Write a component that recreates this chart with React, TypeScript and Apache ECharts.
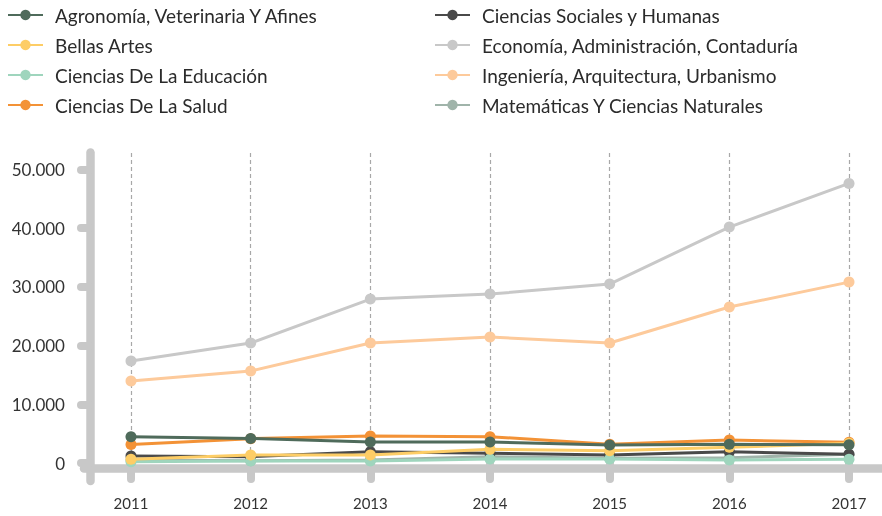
import React, { useEffect, useRef } from "react";
import * as echarts from "echarts";

const years = ["2011", "2012", "2013", "2014", "2015", "2016", "2017"];

const seriesNames = [
  "Agronomía, Veterinaria Y Afines",
  "Bellas Artes",
  "Ciencias De La Educación",
  "Ciencias De La Salud",
  "Ciencias Sociales y Humanas",
  "Economía, Administración, Contaduría",
  "Ingeniería, Arquitectura, Urbanismo",
  "Matemáticas Y Ciencias Naturales",
];

const seriesColors = [
  "#4f6b5b",
  "#fdcd66",
  "#9fd5bd",
  "#f39236",
  "#4a4a4a",
  "#c8c8c8",
  "#fdca9b",
  "#a0b4aa",
];

const agronomia = [4480, 4180, 3580, 3580, 3060, 3180, 3120];
const bellasArtes = [630, 1360, 1360, 2330, 2090, 2670, 3350];
const educacion = [220, 340, 340, 680, 680, 510, 630];
const salud = [3150, 4140, 4600, 4480, 3180, 3920, 3520];
const sociales = [1190, 1070, 1920, 1650, 1360, 1920, 1480];
const economia = [17360, 20430, 27920, 28770, 30470, 40180, 47620];
const ingenieria = [13960, 15660, 20430, 21450, 20430, 26560, 30810];
const matematicas = [510, 390, 510, 1070, 800, 900, 1480];

const seriesValues = [
  agronomia,
  bellasArtes,
  educacion,
  salud,
  sociales,
  economia,
  ingenieria,
  matematicas,
];

const yTicks = [0, 10000, 20000, 30000, 40000, 50000];

const AXIS_GRAY = "#c8c8c8";

function fmt(v: number): string {
  return String(Math.round(v)).replace(/\B(?=(\d{3})+(?!\d))/g, ".");
}

export default function App() {
  const ref = useRef<HTMLDivElement>(null);

  useEffect(() => {
    if (!ref.current) return;
    const chart = echarts.init(ref.current, null, { renderer: "svg" });

    const legendBase = {
      orient: "vertical",
      top: 5,
      padding: 0,
      itemWidth: 35,
      itemHeight: 13,
      itemGap: 10,
      textStyle: {
        fontFamily: "Lato",
        fontSize: 19,
        color: "#2b2b2b",
        lineHeight: 20,
        padding: [0, 0, 0, 7],
      },
    };

    const option: any = {
      animation: false,
      textStyle: { fontFamily: "Lato" },
      legend: [
        { ...legendBase, left: 7, data: seriesNames.slice(0, 4) },
        { ...legendBase, left: 434, data: seriesNames.slice(4) },
      ],
      grid: [
        { left: 131, right: 33, top: 153, bottom: 53 },
        { left: 90, right: 0, top: 152.5, bottom: 35 },
        { left: 84, right: -20, top: 153, bottom: 48 },
      ],
      xAxis: [
        {
          type: "category",
          gridIndex: 0,
          data: years,
          boundaryGap: false,
          axisLine: { show: false },
          axisTick: {
            show: true,
            length: 16,
            lineStyle: { color: AXIS_GRAY, width: 8, cap: "round" },
          },
          axisLabel: { margin: 32, fontSize: 15, color: "#333", fontFamily: "Lato" },
          splitLine: {
            show: true,
            lineStyle: { type: [4, 3], color: "#a8a8a8", width: 1.2 },
          },
        },
        { type: "value", gridIndex: 1, min: 0, max: 1, show: false },
        {
          type: "value",
          gridIndex: 2,
          min: 0,
          max: 1,
          axisLine: {
            show: true,
            lineStyle: { color: AXIS_GRAY, width: 8.5, cap: "round" },
          },
          axisTick: { show: false },
          axisLabel: { show: false },
          splitLine: { show: false },
        },
      ],
      yAxis: [
        {
          type: "value",
          gridIndex: 0,
          min: 0,
          max: 52800,
          offset: 41,
          axisLine: { show: false },
          axisTick: {
            show: true,
            length: 9,
            customValues: yTicks,
            lineStyle: { color: AXIS_GRAY, width: 8, cap: "round" },
          },
          axisLabel: {
            customValues: yTicks,
            margin: 25,
            fontSize: 17,
            color: "#333",
            fontFamily: "Lato",
            formatter: (v: number) => fmt(v),
          },
          splitLine: { show: false },
        },
        {
          type: "value",
          gridIndex: 1,
          min: 0,
          max: 1,
          axisLine: {
            show: true,
            lineStyle: { color: AXIS_GRAY, width: 8.5, cap: "round" },
          },
          axisTick: { show: false },
          axisLabel: { show: false },
          splitLine: { show: false },
        },
        { type: "value", gridIndex: 2, min: 0, max: 1, show: false },
      ],
      series: seriesNames.map((name, i) => ({
        name,
        type: "line",
        xAxisIndex: 0,
        yAxisIndex: 0,
        data: seriesValues[i],
        symbol: "circle",
        symbolSize: 11,
        showSymbol: true,
        z: 10 - i,
        lineStyle: { width: 3, color: seriesColors[i] },
        itemStyle: { color: seriesColors[i] },
        emphasis: { disabled: true },
      })),
    };

    chart.setOption(option);
    return () => chart.dispose();
  }, []);

  return <div ref={ref} style={{ width: 882, height: 516, position: "fixed", left: 0, top: 0 }} />;
}
